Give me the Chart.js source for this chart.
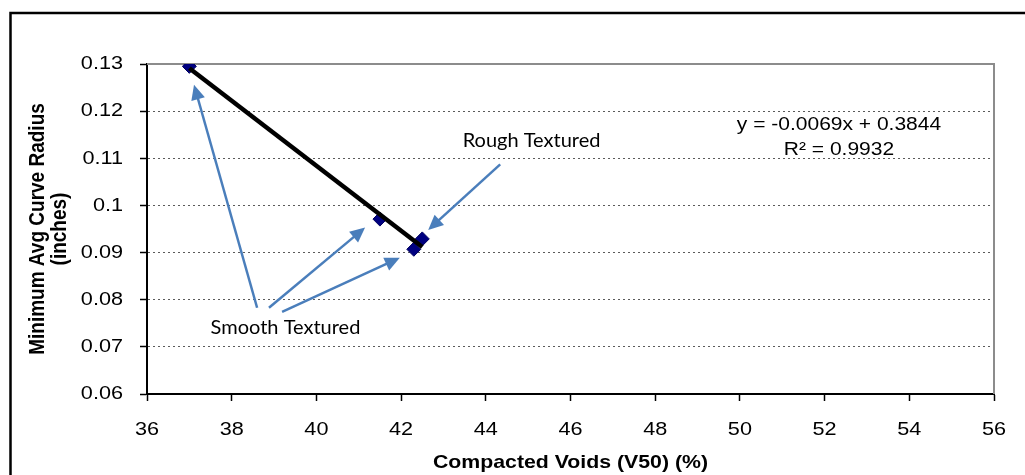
<!DOCTYPE html>
<html>
<head>
<meta charset="utf-8">
<script src="https://cdn.jsdelivr.net/npm/chart.js@4.4.1/dist/chart.umd.min.js"></script>
<style>
  html, body { margin: 0; padding: 0; background: #ffffff; }
  canvas { display: block; }
</style>
</head>
<body>
<canvas id="c" width="1025" height="475"></canvas>
<script>
// ---- data ----
const voids = [37.0, 41.5, 42.3, 42.5];            // Compacted Voids (V50) (%)
const curveRadius = [0.1295, 0.0971, 0.0907, 0.0929]; // Minimum Avg Curve Radius (inches)
const trendX = [37.0, 42.5];
const trendY = [0.1291, 0.0912];
const xTicks = [36, 38, 40, 42, 44, 46, 48, 50, 52, 54, 56];
const yTicks = [0.06, 0.07, 0.08, 0.09, 0.1, 0.11, 0.12, 0.13];
const equationLines = ['y = -0.0069x + 0.3844', 'R\u00B2 = 0.9932'];
const xTitle = 'Compacted Voids (V50) (%)';
const yTitle = ['Minimum Avg Curve Radius', '(inches)'];

// ---- annotations (callouts), positioned in data coordinates ----
const callouts = {
  labels: [
    { text: 'Smooth Textured', x: 39.27, y: 0.0727 },
    { text: 'Rough Textured',  x: 45.08, y: 0.1125 }
  ],
  arrows: [
    { from: [38.60, 0.0783], to: [37.11, 0.1256] },
    { from: [38.88, 0.0783], to: [41.15, 0.0953] },
    { from: [39.19, 0.0774], to: [41.97, 0.0889] },
    { from: [44.34, 0.1087], to: [42.64, 0.0948] }
  ],
  equation: { x: 52.34, y: [0.1161, 0.1108] }
};

const canvas = document.getElementById('c');
const g = canvas.getContext('2d');

// Excel-style horizontally widened chart text
const origFill = g.fillText.bind(g);
g.fillText = function (text, x, y, maxWidth) {
  let s = this.__stretch;
  if (s == null) s = /bold|700/.test(this.font) ? 1.12 : 1.14;
  if (s === 1) {
    return maxWidth === undefined ? origFill(text, x, y) : origFill(text, x, y, maxWidth);
  }
  const m = this.getTransform();
  const p = m.transformPoint(new DOMPoint(x, y));
  this.save();
  this.setTransform(new DOMMatrix().translate(p.x, p.y).scale(s, 1).translate(-p.x, -p.y).multiply(m));
  if (maxWidth === undefined) origFill(text, x, y); else origFill(text, x, y, maxWidth);
  this.restore();
};

const frame = {
  id: 'frame',
  beforeDraw(chart) {
    const c = chart.ctx;
    c.save();
    c.fillStyle = '#ffffff';
    c.fillRect(0, 0, chart.width, chart.height);
    c.strokeStyle = '#000000';
    c.lineWidth = 2.5;
    c.strokeRect(10.5, 13, 1200, 700);
    c.restore();
  },
  beforeDatasetsDraw(chart) {
    const a = chart.chartArea;
    const c = chart.ctx;
    c.save();
    c.strokeStyle = '#8c8c8c';
    c.lineWidth = 2;
    c.beginPath();
    c.moveTo(a.left, a.top);
    c.lineTo(a.right, a.top);
    c.lineTo(a.right, a.bottom);
    c.stroke();
    c.restore();
  }
};

const notes = {
  id: 'notes',
  afterDraw(chart) {
    const c = chart.ctx;
    const sx = chart.scales.x, sy = chart.scales.y;
    c.save();
    // arrows
    c.strokeStyle = '#4A7EBB';
    c.fillStyle = '#4A7EBB';
    c.lineWidth = 2.5;
    callouts.arrows.forEach(a => {
      const x0 = sx.getPixelForValue(a.from[0]), y0 = sy.getPixelForValue(a.from[1]);
      const x1 = sx.getPixelForValue(a.to[0]),   y1 = sy.getPixelForValue(a.to[1]);
      const ang = Math.atan2(y1 - y0, x1 - x0);
      const len = 15, hw = 7;
      const bx = x1 - Math.cos(ang) * len, by = y1 - Math.sin(ang) * len;
      c.beginPath();
      c.moveTo(x0, y0);
      c.lineTo(bx + Math.cos(ang) * 2, by + Math.sin(ang) * 2);
      c.stroke();
      c.beginPath();
      c.moveTo(x1, y1);
      c.lineTo(bx + Math.sin(ang) * hw, by - Math.cos(ang) * hw);
      c.lineTo(bx - Math.sin(ang) * hw, by + Math.cos(ang) * hw);
      c.closePath();
      c.fill();
    });
    // callout labels
    c.__stretch = 1;
    c.fillStyle = '#000000';
    c.font = '20px Lato';
    c.textAlign = 'center';
    c.textBaseline = 'alphabetic';
    callouts.labels.forEach(l => {
      c.fillText(l.text, sx.getPixelForValue(l.x), sy.getPixelForValue(l.y));
    });
    // trendline equation
    c.__stretch = 1.2;
    c.font = '17.5px "Liberation Sans", Arial, sans-serif';
    equationLines.forEach((t, i) => {
      c.fillText(t, sx.getPixelForValue(callouts.equation.x), sy.getPixelForValue(callouts.equation.y[i]));
    });
    c.__stretch = undefined;
    c.restore();
  }
};

const tickFont = { family: '"Liberation Sans", Arial, sans-serif', size: 19 };
const titleFont = { family: '"Liberation Sans", Arial, sans-serif', size: 19, weight: 'bold', lineHeight: 1.18 };

new Chart(canvas, {
  type: 'scatter',
  data: {
    datasets: [
      {
        type: 'line',
        label: 'Linear trend',
        data: trendX.map((x, i) => ({ x, y: trendY[i] })),
        borderColor: '#000000',
        borderWidth: 4.5,
        pointRadius: 0,
        fill: false
      },
      {
        label: 'Minimum Avg Curve Radius',
        data: voids.map((x, i) => ({ x, y: curveRadius[i] })),
        pointStyle: 'rectRot',
        pointRadius: 7,
        backgroundColor: '#000080',
        borderColor: '#000060',
        borderWidth: 1
      }
    ]
  },
  options: {
    responsive: false,
    animation: false,
    events: [],
    layout: { padding: { top: 64, right: 31, left: 0, bottom: 0 } },
    plugins: { legend: { display: false }, tooltip: { enabled: false } },
    scales: {
      x: {
        type: 'linear',
        min: xTicks[0],
        max: xTicks[xTicks.length - 1],
        afterBuildTicks: s => { s.ticks = xTicks.map(v => ({ value: v })); },
        afterFit: s => { s.height = 81; },
        ticks: { font: tickFont, color: '#000000', padding: 17, maxRotation: 0, autoSkip: false },
        grid: { drawOnChartArea: false, drawTicks: true, tickLength: 7, tickColor: '#000000', tickWidth: 1.5 },
        border: { color: '#000000', width: 2 },
        title: { display: true, text: xTitle, font: titleFont, color: '#000000', padding: { top: 0, bottom: 1 } }
      },
      y: {
        type: 'linear',
        min: yTicks[0],
        max: yTicks[yTicks.length - 1],
        afterBuildTicks: s => { s.ticks = yTicks.map(v => ({ value: v })); },
        afterFit: s => { s.width = 147; },
        ticks: {
          font: tickFont, color: '#000000', padding: 17, autoSkip: false,
          callback: v => String(Math.round(v * 100) / 100)
        },
        grid: {
          drawTicks: true, tickLength: 7, tickColor: '#000000', tickWidth: 1.5,
          color: c => (c.tick && Math.abs(c.tick.value - yTicks[yTicks.length - 1]) < 1e-9) ||
                      (c.tick && Math.abs(c.tick.value - yTicks[0]) < 1e-9) ? 'rgba(0,0,0,0)' : '#5a5a5a',
          lineWidth: 1
        },
        border: { color: '#000000', width: 2, dash: [2, 3] },
        title: { display: true, text: yTitle, font: titleFont, color: '#000000', padding: { top: 27, bottom: 0 } }
      }
    }
  },
  plugins: [frame, notes]
});
</script>
</body>
</html>
